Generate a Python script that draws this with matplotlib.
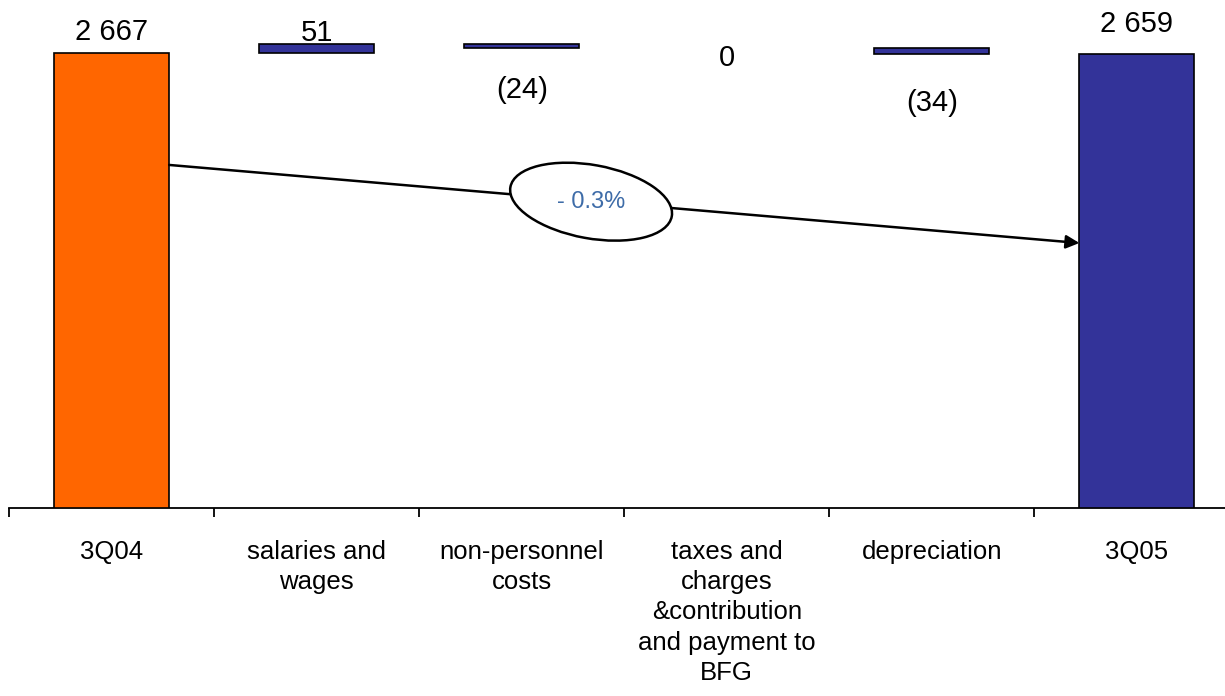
import matplotlib
matplotlib.use("Agg")
import matplotlib.pyplot as plt
from matplotlib.patches import Ellipse
from matplotlib.transforms import ScaledTranslation

# --- data -----------------------------------------------------------------
categories = [
    "3Q04",
    "salaries and\nwages",
    "non-personnel\ncosts",
    "taxes and\ncharges\n&contribution\nand payment to\nBFG",
    "depreciation",
    "3Q05",
]
start_total = 2667
changes = [51, -24, 0, -34]
end_total = 2659
change_pct = -0.3

# --- styling ----------------------------------------------------------------
plt.rcParams['font.family'] = ['Liberation Sans', 'DejaVu Sans']
ORANGE = '#FF6600'
BLUE = '#333399'
PCT_COLOR = '#3E6CA8'
bar_width = 0.56
# baseline offsets (pixels) of the value labels from the bar end they refer to
label_offsets = [13, 3, -50, -18, -57, 22]

fig = plt.figure(figsize=(12.25, 6.96), dpi=100)
ax = fig.add_axes([9.3 / 1225, 187.7 / 696, 1230 / 1225, 508.3 / 696])

# waterfall geometry
values = [start_total] + changes + [end_total]
bottoms, heights = [0], [start_total]
level = start_total
for c in changes:
    if c >= 0:
        bottoms.append(level)
        heights.append(c)
    else:
        bottoms.append(level + c)
        heights.append(-c)
    level += c
bottoms.append(0)
heights.append(end_total)

colors = [ORANGE] + [BLUE] * (len(values) - 1)
lws = [0 if h == 0 else 1.2 for h in heights]
xs = list(range(len(categories)))
ax.bar(xs, heights, bottom=bottoms, width=bar_width, color=colors,
       edgecolor='black', linewidth=lws, zorder=3)


def fmt(v):
    if v < 0:
        return f"({abs(v)})"
    return f"{v:,}".replace(",", " ")


for i, v in enumerate(values):
    is_delta = 0 < i < len(values) - 1
    if is_delta and v <= 0:
        anchor = bottoms[i]
    else:
        anchor = bottoms[i] + heights[i]
    ax.annotate(fmt(v), xy=(i, anchor), xytext=(0, label_offsets[i]),
                textcoords='offset pixels', ha='center', va='baseline',
                fontsize=21, color='black')

# axes cosmetics
ax.set_xlim(-0.5, len(categories) - 0.5)
ax.set_ylim(0, 2975.6)
ax.set_yticks([])
for side in ('left', 'top', 'right'):
    ax.spines[side].set_visible(False)
ax.spines['bottom'].set_linewidth(1.3)

ax.set_xticks([i - 0.5 for i in range(len(categories) + 1)])
ax.set_xticklabels([])
ax.set_xticks(xs, minor=True)
ax.set_xticklabels(categories, minor=True, fontsize=18.5, linespacing=1.34)
ax.tick_params(axis='x', which='major', length=6.5, width=1.3, direction='out')
ax.tick_params(axis='x', which='minor', length=0, pad=22.5)

# growth arrow between the two totals
arrow_y0, arrow_y1 = 2010, 1553
ax.annotate('', xy=(len(categories) - 1 - bar_width / 2, arrow_y1),
            xytext=(bar_width / 2, arrow_y0),
            arrowprops=dict(arrowstyle='-|>', color='black', lw=1.8,
                            shrinkA=0, shrinkB=0, mutation_scale=20),
            zorder=4)

# percentage bubble
cx, cy = 2.338, 1795
bubble = Ellipse((0, 0), 1.64, 0.734, angle=-10.3, facecolor='white',
                 edgecolor='black', linewidth=1.8, zorder=5, clip_on=False,
                 transform=fig.dpi_scale_trans + ScaledTranslation(cx, cy, ax.transData))
ax.add_patch(bubble)
ax.set_xlim(-0.5, len(categories) - 0.5)
ax.set_ylim(0, 2975.6)
ax.text(cx, cy, f"- {abs(change_pct)}%", ha='center', va='center',
        color=PCT_COLOR, fontsize=17, zorder=6)

fig.savefig('out.png', dpi=100)
